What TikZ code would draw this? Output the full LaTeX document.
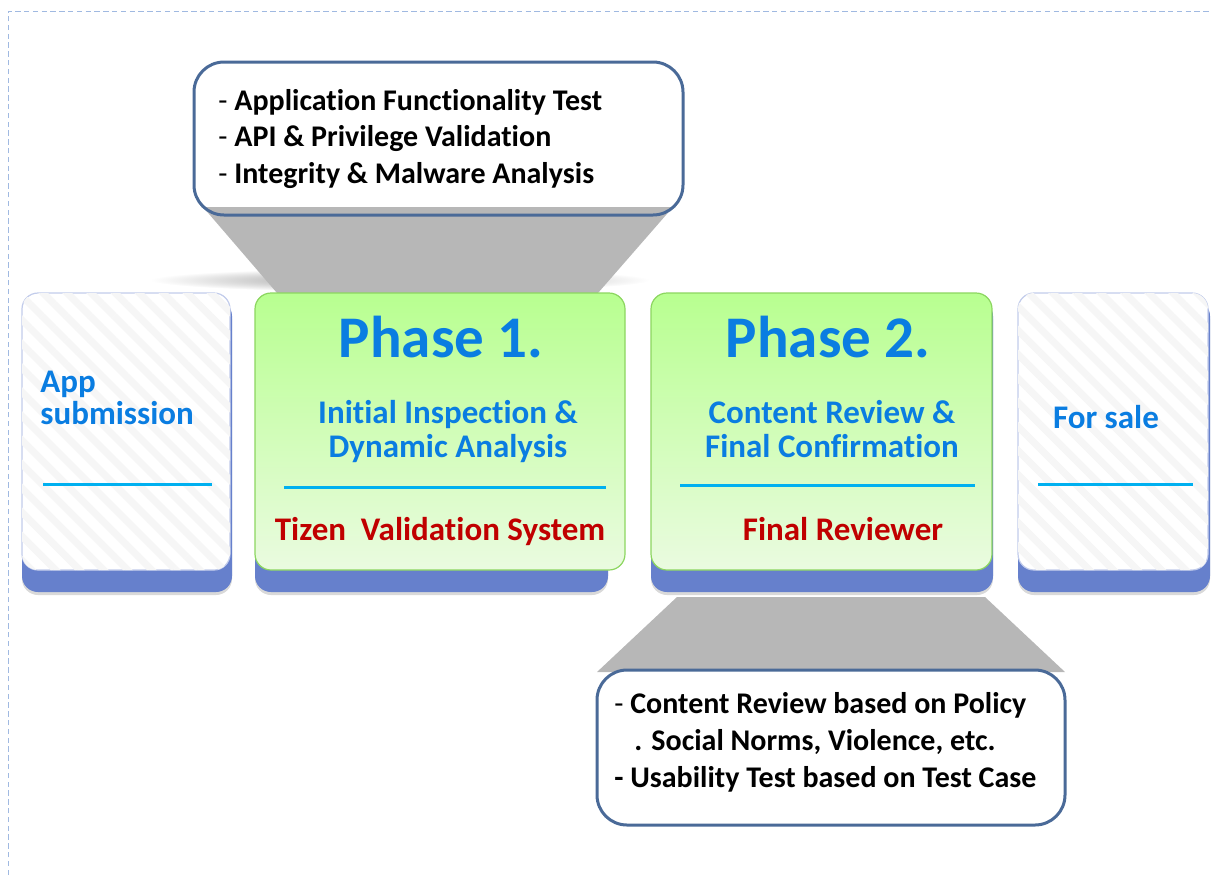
\documentclass[tikz,border=0pt]{standalone}
\usepackage{fontspec}
\setmainfont{Carlito}[Ligatures=NoCommon]
\usetikzlibrary{patterns.meta,shadows}

\definecolor{baseblue}{RGB}{102,128,204}
\definecolor{greentop}{RGB}{184,255,144}
\definecolor{greenbot}{RGB}{234,251,224}
\definecolor{greenedge}{RGB}{140,214,96}
\definecolor{lineblue}{RGB}{0,176,240}
\definecolor{titleblue}{RGB}{10,125,225}
\definecolor{ownerred}{RGB}{192,0,0}
\definecolor{calloutedge}{RGB}{74,106,152}
\definecolor{funnelgrey}{RGB}{183,183,183}
\definecolor{frameblue}{RGB}{160,185,225}

\tikzset{
  base/.style={fill=baseblue, rounded corners=8pt,
    drop shadow={shadow xshift=0pt, shadow yshift=-1.5pt, opacity=0.3}},
  plaincard/.style={fill=white, draw=baseblue!40, line width=0.6pt, rounded corners=8pt},
  stripes/.style={pattern={Lines[angle=-45, distance=8.5pt, line width=3.5pt]}, pattern color=black!3.5},
  phasecard/.style={top color=greentop, bottom color=greenbot, draw=greenedge,
    line width=0.6pt, rounded corners=8pt},
  sepline/.style={draw=lineblue, line width=1.5pt},
  callout/.style={draw=calloutedge, line width=1.5pt, rounded corners=15pt},
  funnel/.style={fill=funnelgrey},
  cardtext/.style={font=\fontsize{16.5}{18}\selectfont\bfseries, text=titleblue, anchor=base, inner sep=0pt},
  phasetitle/.style={font=\fontsize{29.5}{32}\selectfont\bfseries, text=titleblue, anchor=base, inner sep=0pt},
  owner/.style={font=\fontsize{16.5}{18}\selectfont\bfseries, text=ownerred, anchor=base, inner sep=0pt},
  item/.style={font=\fontsize{15}{17}\selectfont\bfseries, anchor=base west, inner sep=0pt},
}

\begin{document}
\begin{tikzpicture}[x=0.5pt, y=-0.5pt]
  \useasboundingbox (0,0) rectangle (1211,875);

  % page frame
  \draw[frameblue, line width=0.5pt, dash pattern=on 2.7pt off 1.7pt] (8,875) -- (8,11) -- (1211,11);

  % shadow under the upper funnel
  \shade[inner color=black!45, outer color=white] (400,280) ellipse [x radius=250, y radius=12];

  % upper callout with its funnel
  \fill[white, rounded corners=15pt] (194,62) rectangle (683,215);
  \fill[funnel] (203,207) -- (673,207) -- (598,293) -- (277,293) -- cycle;
  \draw[callout] (194,62) rectangle (683,215);
  \node[item] (testa) at (218,110) {{\mdseries -} Application Functionality Test};
  \node[item] (testb) at (218,146) {{\mdseries -} API \& Privilege Validation};
  \node[item] (testc) at (218,183) {{\mdseries -} Integrity \& Malware Analysis};

  % blue bases
  \fill[base] (22,300) rectangle (232,592);
  \fill[base] (255,300) rectangle (608,592);
  \fill[base] (651,300) rectangle (993,592);
  \fill[base] (1018,300) rectangle (1210,592);

  % App submission
  \draw[plaincard] (22,293) rectangle (230,570);
  \fill[stripes, rounded corners=8pt] (22,293) rectangle (230,570);
  \node[cardtext, anchor=base west] (app) at (40,392) {App};
  \node[cardtext, anchor=base west] (submission) at (40,424) {submission};
  \draw[sepline] (43,484) -- (212,484);

  % Phase 1
  \draw[phasecard] (255,293) rectangle (625,570);
  \node[phasetitle] (phaseone) at (441,357) {Phase 1.};
  \node[cardtext] (inspect) at (448,423) {Initial Inspection \&};
  \node[cardtext] (dynamic) at (448,457) {Dynamic Analysis};
  \draw[sepline] (284,487) -- (606,487);
  \node[owner] (tvs) at (440,540) {Tizen\ \ Validation System};

  % Phase 2
  \draw[phasecard] (651,293) rectangle (992,570);
  \node[phasetitle] (phasetwo) at (828,357) {Phase 2.};
  \node[cardtext] (review) at (832,423) {Content Review \&};
  \node[cardtext] (confirm) at (832,457) {Final Confirmation};
  \draw[sepline] (680,485) -- (975,485);
  \node[owner] (reviewer) at (843,540) {Final Reviewer};

  % For sale
  \draw[plaincard] (1018,293) rectangle (1208,570);
  \fill[stripes, rounded corners=8pt] (1018,293) rectangle (1208,570);
  \node[cardtext] (sale) at (1106,428) {For sale};
  \draw[sepline] (1038,484) -- (1193,484);

  % lower callout with its funnel
  \fill[funnel] (677,597) -- (985,597) -- (1065,672) -- (597,672) -- cycle;
  \draw[callout, fill=white] (597,670) rectangle (1065,825);
  \node[item] (policy) at (614,713) {{\mdseries -} Content Review based on Policy};
  \node[item] (norms) at (634,750) {. Social Norms, Violence, etc.};
  \node[item] (usability) at (614,787) {- Usability Test based on Test Case};
\end{tikzpicture}
\end{document}
